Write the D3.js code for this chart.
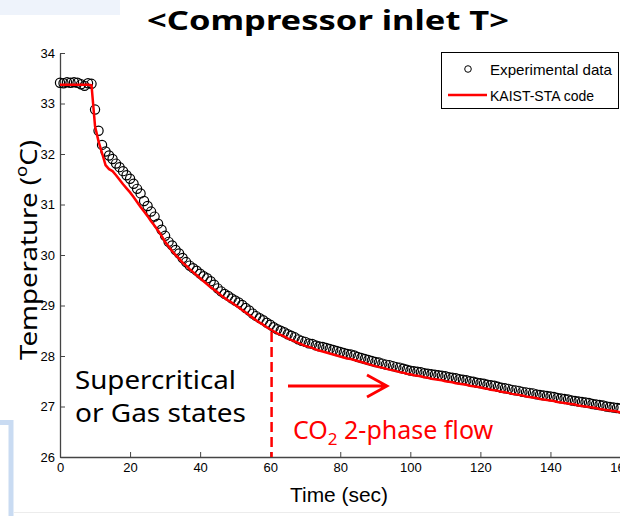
<!DOCTYPE html>
<html>
<head>
<meta charset="utf-8">
<script src="https://cdn.jsdelivr.net/npm/d3@7"></script>
<style>
  body { margin: 0; background: #fff; }
  .tick text { font-family: "Liberation Sans Narrow", "Liberation Sans", Arial, sans-serif; font-size: 13px; fill: #000; }
</style>
</head>
<body>
<div class="chart"></div>
<script>

// time (sec), one sample per second
var times = d3.range(0, 161);

var expData = [
  33.41, 33.40, 33.42, 33.41, 33.42, 33.41, 33.38, 33.35, 33.40, 33.39,
  32.88, 32.46, 32.18, 32.05, 31.97, 31.90, 31.81, 31.74, 31.66, 31.58,
  31.51, 31.41, 31.31, 31.22, 31.07, 30.97, 30.86, 30.76, 30.62, 30.50,
  30.38, 30.26, 30.19, 30.10, 30.03, 29.94, 29.86, 29.79, 29.74, 29.69,
  29.63, 29.58, 29.54, 29.48, 29.41, 29.34, 29.28, 29.23, 29.19, 29.14,
  29.10, 29.06, 29.01, 28.95, 28.90, 28.84, 28.79, 28.75, 28.71, 28.66,
  28.62, 28.57, 28.53, 28.50, 28.47, 28.43, 28.40, 28.37, 28.33, 28.30,
  28.28, 28.25, 28.24, 28.21, 28.19, 28.18, 28.16, 28.14, 28.12, 28.10,
  28.08, 28.06, 28.04, 28.03, 28.01, 27.98, 27.96, 27.94, 27.92, 27.90,
  27.88, 27.87, 27.85, 27.83, 27.82, 27.80, 27.78, 27.77, 27.75, 27.73,
  27.71, 27.70, 27.69, 27.68, 27.66, 27.65, 27.64, 27.63, 27.62, 27.61,
  27.60, 27.58, 27.57, 27.56, 27.54, 27.53, 27.52, 27.50, 27.49, 27.47,
  27.46, 27.45, 27.43, 27.42, 27.41, 27.39, 27.37, 27.36, 27.35, 27.33,
  27.32, 27.31, 27.29, 27.28, 27.27, 27.26, 27.24, 27.23, 27.22, 27.21,
  27.20, 27.19, 27.17, 27.16, 27.15, 27.14, 27.12, 27.11, 27.10, 27.09,
  27.08, 27.07, 27.05, 27.04, 27.03, 27.02, 27.00, 26.99, 26.98, 26.97,
  26.96
];

var codeData = [
  33.37, 33.37, 33.37, 33.37, 33.37, 33.37, 33.37, 33.37, 33.37, 33.36,
  32.55, 32.25, 32.02, 31.78, 31.70, 31.66, 31.58, 31.49, 31.40, 31.32,
  31.24, 31.15, 31.05, 30.95, 30.86, 30.77, 30.67, 30.58, 30.48, 30.38,
  30.26, 30.17, 30.08, 30.00, 29.93, 29.85, 29.79, 29.72, 29.66, 29.60,
  29.54, 29.48, 29.42, 29.36, 29.31, 29.26, 29.20, 29.15, 29.10, 29.06,
  29.01, 28.96, 28.91, 28.86, 28.81, 28.76, 28.71, 28.66, 28.62, 28.57,
  28.53, 28.49, 28.45, 28.42, 28.39, 28.35, 28.32, 28.29, 28.26, 28.23,
  28.20, 28.18, 28.16, 28.13, 28.11, 28.09, 28.07, 28.05, 28.03, 28.01,
  27.99, 27.97, 27.95, 27.94, 27.92, 27.90, 27.88, 27.86, 27.84, 27.82,
  27.80, 27.78, 27.77, 27.75, 27.73, 27.72, 27.70, 27.68, 27.67, 27.65,
  27.64, 27.62, 27.61, 27.60, 27.58, 27.57, 27.55, 27.54, 27.53, 27.52,
  27.50, 27.49, 27.48, 27.46, 27.45, 27.44, 27.43, 27.41, 27.40, 27.39,
  27.38, 27.36, 27.35, 27.33, 27.32, 27.31, 27.29, 27.28, 27.27, 27.25,
  27.24, 27.23, 27.22, 27.20, 27.19, 27.18, 27.17, 27.15, 27.14, 27.13,
  27.12, 27.11, 27.09, 27.08, 27.07, 27.06, 27.05, 27.04, 27.02, 27.01,
  27.00, 26.99, 26.98, 26.97, 26.95, 26.94, 26.93, 26.92, 26.91, 26.90,
  26.88
];

var xTicks = [0, 20, 40, 60, 80, 100, 120, 140, 160];
var yTicks = [26, 27, 28, 29, 30, 31, 32, 33, 34];
var legendLabels = ["Experimental data", "KAIST-STA code"];
var phaseTime = 60.4;

var svg = d3.select(".chart").append("svg")
    .attr("width", 620)
    .attr("height", 516);

svg.append("rect").attr("width", 620).attr("height", 516).attr("fill", "#fff");

// slide leftovers
svg.append("rect").attr("x", 0).attr("y", 0).attr("width", 120).attr("height", 15).attr("fill", "#eef3fb");
svg.append("path").attr("d", "M0,422.5 H11 V516").attr("fill", "none").attr("stroke", "#c9dbf2").attr("stroke-width", 5);
svg.append("line").attr("x1", 14).attr("x2", 620).attr("y1", 512.5).attr("y2", 512.5).attr("stroke", "#ececec");

var x = d3.scaleLinear().domain([0, 160]).range([60, 620.5]);
var y = d3.scaleLinear().domain([26, 34]).range([457, 53]);

var g = svg.append("g");

var xAxis = g.append("g")
    .attr("transform", "translate(0," + y(26) + ")")
    .call(d3.axisBottom(x).tickValues(xTicks).tickSize(-5).tickSizeOuter(0).tickPadding(6));
var yAxis = g.append("g")
    .attr("transform", "translate(" + x(0) + ",0)")
    .call(d3.axisLeft(y).tickValues(yTicks).tickSize(-5).tickSizeOuter(0).tickPadding(5));

g.selectAll(".domain").attr("stroke", "#444").attr("stroke-width", 1.3);
g.selectAll(".tick line").attr("stroke", "#444");

// experimental circles
g.append("g").selectAll("circle")
    .data(times)
    .enter().append("circle")
    .attr("cx", function(d) { return x(d); })
    .attr("cy", function(d, i) { return y(expData[i]); })
    .attr("r", 4.6)
    .attr("fill", "none")
    .attr("stroke", "#000")
    .attr("stroke-width", 1.2);

// code line
var line = d3.line()
    .x(function(d) { return x(d); })
    .y(function(d, i) { return y(codeData[i]); });

g.append("path")
    .datum(times)
    .attr("d", line)
    .attr("fill", "none")
    .attr("stroke", "#ff0000")
    .attr("stroke-width", 2.5)
    .attr("stroke-linejoin", "round");

// phase boundary
g.append("line")
    .attr("x1", x(phaseTime)).attr("x2", x(phaseTime))
    .attr("y1", 332).attr("y2", y(26))
    .attr("stroke", "#ff0000")
    .attr("stroke-width", 2.5)
    .attr("stroke-dasharray", "10,5");

// arrow
g.append("path")
    .attr("d", "M288,386 H386 M367,375 L387,386 L367,397")
    .attr("fill", "none")
    .attr("stroke", "#ff0000")
    .attr("stroke-width", 2.8);

// annotations
var noto = '"Noto Sans", "Open Sans", sans-serif';

g.append("text").attr("x", 75).attr("y", 389)
    .style("font-family", noto).style("font-size", "25px")
    .attr("textLength", 161).attr("lengthAdjust", "spacingAndGlyphs")
    .text("Supercritical");
g.append("text").attr("x", 75).attr("y", 422)
    .style("font-family", noto).style("font-size", "25px")
    .attr("textLength", 171).attr("lengthAdjust", "spacingAndGlyphs")
    .text("or Gas states");

var co2 = g.append("text").attr("x", 293).attr("y", 439)
    .style("font-family", noto).style("font-size", "25px").attr("fill", "#ff0000");
co2.append("tspan").text("CO");
co2.append("tspan").attr("dy", 6).style("font-size", "17px").text("2");
co2.append("tspan").attr("dy", -6).text(" 2-phase flow");

// title
svg.append("text").attr("x", 328).attr("y", 30)
    .attr("text-anchor", "middle")
    .style("font-family", noto).style("font-size", "27px").style("font-weight", "bold")
    .attr("textLength", 362).attr("lengthAdjust", "spacingAndGlyphs")
    .text("<Compressor inlet T>");

// axis labels
var yl = svg.append("text")
    .attr("transform", "translate(37,250) rotate(-90)")
    .attr("text-anchor", "middle")
    .style("font-family", noto).style("font-size", "24px")
    .attr("textLength", 220).attr("lengthAdjust", "spacingAndGlyphs");
yl.append("tspan").text("Temperature (");
yl.append("tspan").attr("dy", -10).style("font-size", "16px").text("o");
yl.append("tspan").attr("dy", 10).text("C)");

svg.append("text").attr("x", 339).attr("y", 502)
    .attr("text-anchor", "middle")
    .style("font-family", '"Liberation Sans Narrow", "Liberation Sans", Arial, sans-serif')
    .style("font-size", "20px")
    .attr("textLength", 98).attr("lengthAdjust", "spacingAndGlyphs")
    .text("Time (sec)");

// legend
var leg = svg.append("g");
leg.append("rect").attr("x", 441.5).attr("y", 52.5).attr("width", 177).attr("height", 56)
    .attr("fill", "#fff").attr("stroke", "#000").attr("stroke-width", 1);
leg.append("circle").attr("cx", 468).attr("cy", 69).attr("r", 3.3)
    .attr("fill", "none").attr("stroke", "#000");
leg.append("line").attr("x1", 448).attr("x2", 487).attr("y1", 95).attr("y2", 95)
    .attr("stroke", "#ff0000").attr("stroke-width", 2.5);
leg.selectAll(".lt")
    .data(legendLabels)
    .enter().append("text")
    .attr("x", 490)
    .attr("y", function(d, i) { return 75 + i * 26; })
    .style("font-family", '"Liberation Sans Narrow", "Liberation Sans", Arial, sans-serif')
    .style("font-size", "15px")
    .attr("textLength", function(d, i) { return i == 0 ? 122 : 104; })
    .attr("lengthAdjust", "spacingAndGlyphs")
    .text(function(d) { return d; });

</script>
</body>
</html>
